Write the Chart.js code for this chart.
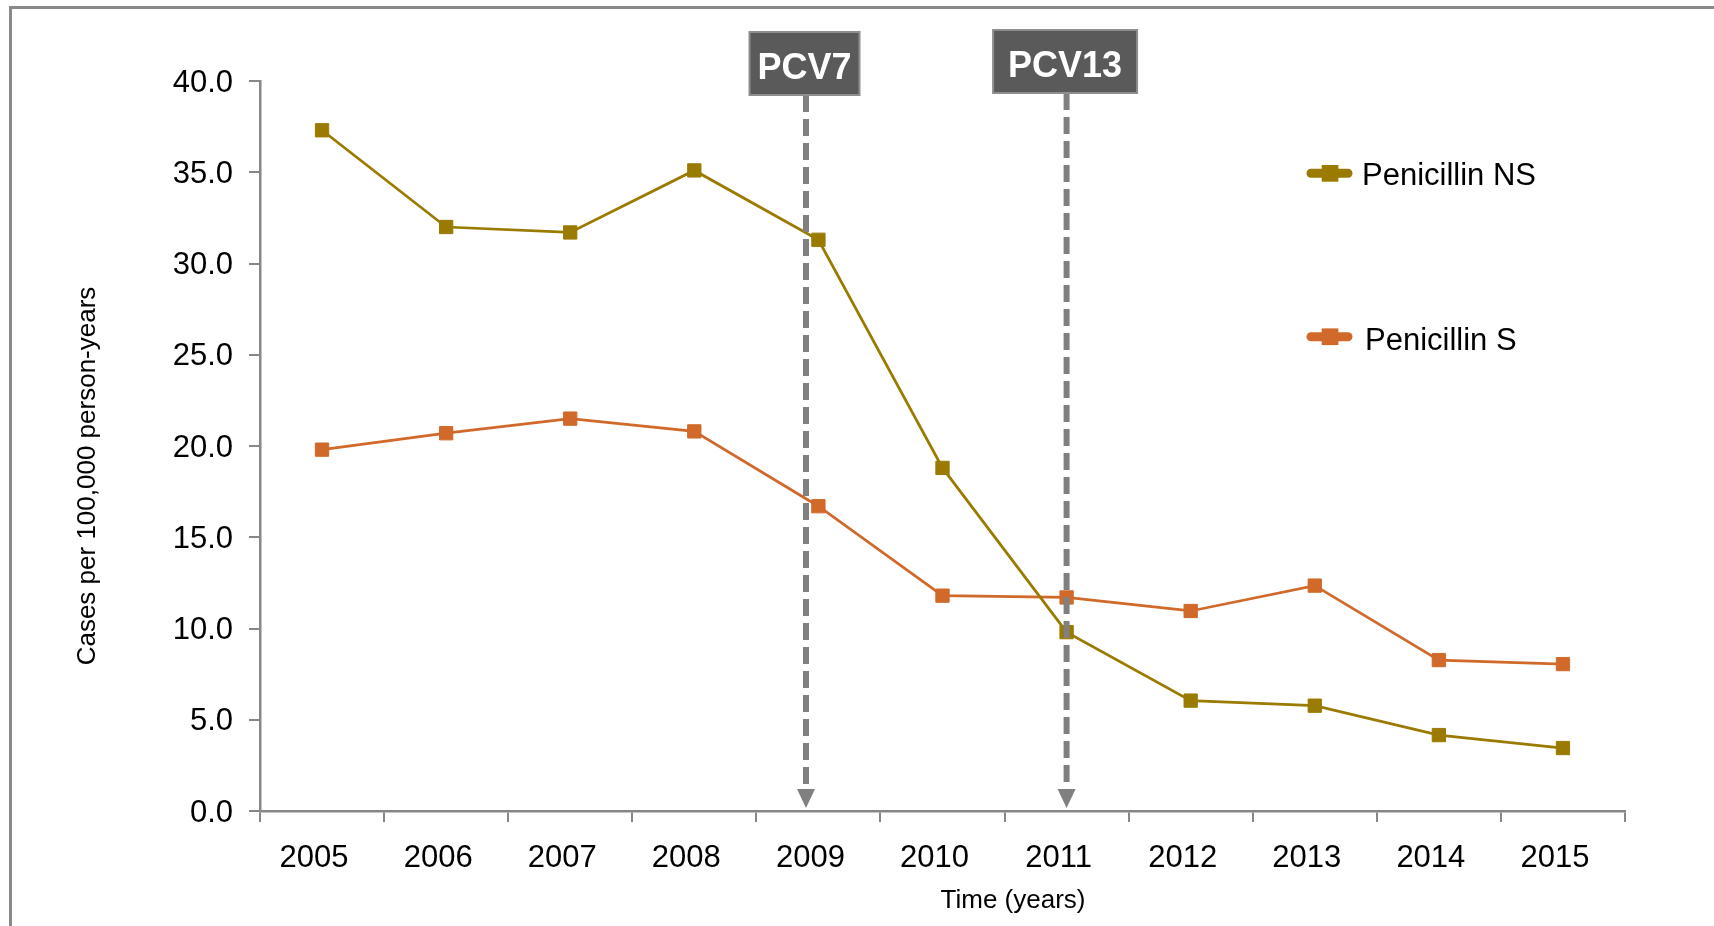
<!DOCTYPE html>
<html>
<head>
<meta charset="utf-8">
<script src="https://cdn.jsdelivr.net/npm/chart.js@4.4.1/dist/chart.umd.min.js"></script>
<style>
  html, body { margin: 0; padding: 0; background: #ffffff; }
  #wrap { width: 1714px; height: 926px; position: relative; }
  canvas { display: block; }
</style>
</head>
<body>
<div id="wrap"><canvas id="c" width="1714" height="926"></canvas></div>
<script>
// ---- data ----
const years = ['2005', '2006', '2007', '2008', '2009', '2010', '2011', '2012', '2013', '2014', '2015'];
const penicillinNS = [37.3, 32.0, 31.7, 35.1, 31.3, 18.8, 9.8, 6.05, 5.77, 4.16, 3.45];
const penicillinS = [19.8, 20.7, 21.5, 20.8, 16.7, 11.8, 11.7, 10.96, 12.35, 8.27, 8.05];
const seriesNames = ['Penicillin NS', 'Penicillin S'];
const yMin = 0, yMax = 40, yStep = 5;
const vaccineLabels = ['PCV7', 'PCV13'];
const vaccinePositions = [3.9, 6]; // position along the year axis (category index)
const xTitle = 'Time (years)';
const yTitle = 'Cases per 100,000 person-years';

// ---- styles ----
const colNS = '#9A7B00';
const colS = '#D0692A';
const axisCol = '#878787';
const FONT = '"Liberation Sans", Arial, Helvetica, sans-serif';

const framePlugin = {
  id: 'frame',
  beforeDraw(chart) {
    const ctx = chart.ctx;
    ctx.save();
    ctx.fillStyle = '#ffffff';
    ctx.fillRect(0, 0, chart.width, chart.height);
    ctx.strokeStyle = '#8a8a8a';
    ctx.lineWidth = 3;
    ctx.strokeRect(10.5, 7.5, chart.width + 40, chart.height + 40);
    ctx.restore();
  }
};

const titlesPlugin = {
  id: 'axisTitles',
  afterDraw(chart) {
    const ctx = chart.ctx;
    ctx.save();
    ctx.fillStyle = '#000000';
    ctx.font = '26px ' + FONT;
    ctx.textAlign = 'center';
    ctx.textBaseline = 'alphabetic';
    ctx.fillText(xTitle, 1013, 908);
    ctx.translate(95, 476);
    ctx.rotate(-Math.PI / 2);
    ctx.fillText(yTitle, 0, 0);
    ctx.restore();
  }
};

const vaccinePlugin = {
  id: 'vaccines',
  afterDatasetsDraw(chart) {
    const ctx = chart.ctx;
    const xs = chart.scales.x;
    const boxW = [110, 144];
    const boxTop = [32, 30];
    const boxH = 63;
    const arrowTip = chart.chartArea.bottom - 3;
    ctx.save();
    vaccineLabels.forEach((lab, i) => {
      const x = xs.getPixelForValue(vaccinePositions[i]);
      const top = boxTop[i];
      const bottom = top + boxH;
      ctx.strokeStyle = '#808080';
      ctx.lineWidth = 6;
      ctx.setLineDash([17, 7]);
      ctx.beginPath();
      ctx.moveTo(x, bottom);
      ctx.lineTo(x, arrowTip - 18);
      ctx.stroke();
      ctx.setLineDash([]);
      ctx.fillStyle = '#808080';
      ctx.beginPath();
      ctx.moveTo(x - 9, arrowTip - 19);
      ctx.lineTo(x + 9, arrowTip - 19);
      ctx.lineTo(x, arrowTip);
      ctx.closePath();
      ctx.fill();
      const bx = x - 1.5 - boxW[i] / 2;
      ctx.fillStyle = '#5a5a5a';
      ctx.fillRect(bx, top, boxW[i], boxH);
      ctx.strokeStyle = '#8e8e8e';
      ctx.lineWidth = 2;
      ctx.strokeRect(bx, top, boxW[i], boxH);
      ctx.fillStyle = '#ffffff';
      ctx.font = 'bold 36px ' + FONT;
      ctx.textAlign = 'center';
      ctx.textBaseline = 'alphabetic';
      ctx.fillText(lab, bx + boxW[i] / 2, top + 46.5);
    });
    ctx.restore();
  }
};

const legendPlugin = {
  id: 'customLegend',
  afterDraw(chart) {
    const ctx = chart.ctx;
    const items = [
      { y: 173.3, tx: 1362, base: 185 },
      { y: 336.7, tx: 1365, base: 350 }
    ];
    ctx.save();
    chart.data.datasets.forEach((ds, i) => {
      const it = items[i];
      ctx.strokeStyle = ds.borderColor;
      ctx.lineWidth = 9;
      ctx.lineCap = 'round';
      ctx.beginPath();
      ctx.moveTo(1311, it.y);
      ctx.lineTo(1348, it.y);
      ctx.stroke();
      ctx.fillStyle = ds.borderColor;
      ctx.fillRect(1321.7, it.y - 8.3, 16.7, 16.7);
      ctx.fillStyle = '#000000';
      ctx.font = '31px ' + FONT;
      ctx.textAlign = 'left';
      ctx.textBaseline = 'alphabetic';
      ctx.fillText(ds.label, it.tx, it.base);
    });
    ctx.restore();
  }
};

new Chart(document.getElementById('c'), {
  type: 'line',
  data: {
    labels: years,
    datasets: [
      {
        label: seriesNames[0],
        data: penicillinNS,
        borderColor: colNS,
        backgroundColor: colNS,
        borderWidth: 2.75,
        pointStyle: 'rect',
        pointRadius: 9.4,
        pointBorderWidth: 1,
        pointBackgroundColor: colNS,
        pointBorderColor: colNS,
        tension: 0,
        fill: false
      },
      {
        label: seriesNames[1],
        data: penicillinS,
        borderColor: colS,
        backgroundColor: colS,
        borderWidth: 2.75,
        pointStyle: 'rect',
        pointRadius: 9.4,
        pointBorderWidth: 1,
        pointBackgroundColor: colS,
        pointBorderColor: colS,
        tension: 0,
        fill: false
      }
    ]
  },
  options: {
    responsive: false,
    animation: false,
    events: [],
    layout: { padding: { top: 81, right: 89, bottom: 0, left: 0 } },
    plugins: {
      legend: { display: false },
      tooltip: { enabled: false }
    },
    scales: {
      x: {
        type: 'category',
        offset: true,
        afterFit(scale) { scale.height = 115; },
        grid: {
          display: true,
          drawOnChartArea: false,
          drawTicks: true,
          tickLength: 11,
          offset: true,
          color: axisCol,
          lineWidth: 2
        },
        border: { display: true, color: axisCol, width: 2.5 },
        ticks: {
          color: '#000000',
          font: { family: FONT, size: 31 },
          padding: 18,
          labelOffset: -8,
          maxRotation: 0,
          autoSkip: false
        }
      },
      y: {
        min: yMin,
        max: yMax,
        afterFit(scale) { scale.width = 260; },
        grid: {
          display: true,
          drawOnChartArea: false,
          drawTicks: true,
          tickLength: 11,
          color: axisCol,
          lineWidth: 2
        },
        border: { display: true, color: axisCol, width: 2.5 },
        ticks: {
          stepSize: yStep,
          color: '#000000',
          font: { family: FONT, size: 31 },
          padding: 16,
          labelOffset: 2,
          callback: v => Number(v).toFixed(1)
        }
      }
    }
  },
  plugins: [framePlugin, vaccinePlugin, legendPlugin, titlesPlugin]
});
</script>
</body>
</html>
